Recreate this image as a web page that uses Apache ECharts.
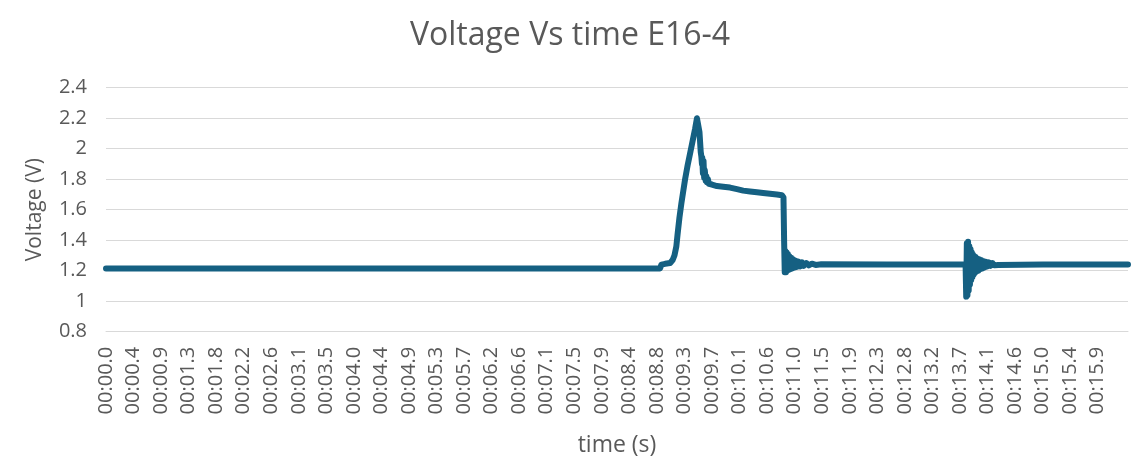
<!DOCTYPE html>
<html>
<head>
<meta charset="utf-8">
<script src="https://cdn.jsdelivr.net/npm/echarts@6/dist/echarts.min.js"></script>
<style>
html,body{margin:0;padding:0;background:#fff;}
#chart{width:1140px;height:476px;}
</style>
</head>
<body>
<div id="chart"></div>
<script>
// time (s) and voltage (V)
var timeS = [
  0, 2.0, 4.0, 6.0, 8.0, 8.87,
  8.89, 8.95, 9.03, 9.07, 9.10, 9.13, 9.15, 9.18, 9.21, 9.24, 9.27, 9.31, 9.35, 9.39, 9.43, 9.46, 9.48, 9.50,
  9.52, 9.53, 9.54, 9.545, 9.555, 9.565, 9.575, 9.585, 9.60, 9.61, 9.62, 9.635, 9.65, 9.70, 9.78, 9.88, 9.99, 10.10, 10.20, 10.31, 10.42, 10.52, 10.63, 10.74, 10.82, 10.845,
  10.855, 10.865, 10.875, 10.885, 10.895, 10.905, 10.915, 10.925, 10.94, 10.955, 10.97, 10.985, 11.00, 11.02, 11.04, 11.06, 11.085, 11.11, 11.14, 11.17, 11.21, 11.25, 11.30, 11.36, 11.45,
  12.5, 13.5, 13.76,
  13.770, 13.780, 13.790, 13.800, 13.810, 13.820, 13.830, 13.840, 13.850, 13.860, 13.870, 13.880, 13.890, 13.900, 13.910, 13.920, 13.935, 13.950, 13.965, 13.980, 13.995, 14.010, 14.030, 14.050, 14.070, 14.090, 14.110, 14.135, 14.160, 14.190, 14.220, 14.250, 14.280, 14.31,
  15.0, 15.8, 16.36
];
var voltage = [
  1.215, 1.215, 1.215, 1.215, 1.215, 1.215,
  1.24, 1.245, 1.25, 1.27, 1.30, 1.36, 1.44, 1.55, 1.64, 1.72, 1.80, 1.89, 1.97, 2.05, 2.13, 2.20, 2.20, 2.11,
  1.98, 1.95, 1.90, 1.94, 1.84, 1.92, 1.81, 1.86, 1.79, 1.82, 1.78, 1.80, 1.77, 1.765, 1.755, 1.75, 1.745, 1.735, 1.725, 1.72, 1.715, 1.71, 1.705, 1.70, 1.695, 1.68,
  1.40, 1.19, 1.33, 1.19, 1.32, 1.20, 1.31, 1.205, 1.295, 1.21, 1.285, 1.215, 1.275, 1.22, 1.265, 1.225, 1.26, 1.228, 1.255, 1.232, 1.25, 1.235, 1.246, 1.238, 1.242,
  1.24, 1.24, 1.24,
  1.03, 1.38, 1.04, 1.39, 1.07, 1.36, 1.11, 1.34, 1.14, 1.32, 1.16, 1.305, 1.175, 1.295, 1.185, 1.29, 1.195, 1.28, 1.20, 1.275, 1.21, 1.27, 1.215, 1.262, 1.222, 1.258, 1.228, 1.254, 1.232, 1.25, 1.235, 1.247, 1.238, 1.244,
  1.24, 1.24, 1.24
];
var xTickLabels = [
  "00:00.0","00:00.4","00:00.9","00:01.3","00:01.8","00:02.2","00:02.6","00:03.1","00:03.5","00:04.0",
  "00:04.4","00:04.9","00:05.3","00:05.7","00:06.2","00:06.6","00:07.1","00:07.5","00:07.9","00:08.4",
  "00:08.8","00:09.3","00:09.7","00:10.1","00:10.6","00:11.0","00:11.5","00:11.9","00:12.3","00:12.8",
  "00:13.2","00:13.7","00:14.1","00:14.6","00:15.0","00:15.4","00:15.9"
];
var yTickLabels = ["0.8","1","1.2","1.4","1.6","1.8","2","2.2","2.4"];

var X_STEP = 0.441;
var FONT = "'Open Sans', sans-serif";
var TXT = "#595959";
var GRID = "#d9d9d9";

var points = timeS.map(function (t, i) { return [t, voltage[i]]; });

var chart = echarts.init(document.getElementById('chart'), null, {renderer: 'canvas'});
chart.setOption({
  animation: false,
  backgroundColor: '#ffffff',
  textStyle: {fontFamily: FONT},
  title: {
    text: 'Voltage Vs time E16-4',
    left: 'center',
    top: 15,
    textStyle: {fontFamily: FONT, fontSize: 32, fontWeight: 'normal', color: TXT}
  },
  grid: {left: 106, right: 12, top: 87.7, bottom: 144.3, containLabel: false},
  xAxis: {
    type: 'value',
    min: 0,
    max: 16.36,
    interval: X_STEP,
    name: 'time (s)',
    nameLocation: 'middle',
    nameGap: 102,
    nameTextStyle: {fontFamily: FONT, fontSize: 23, color: TXT},
    axisLine: {show: true, lineStyle: {color: GRID, width: 1}},
    axisTick: {show: false},
    splitLine: {show: false},
    axisLabel: {
      rotate: 90,
      margin: 15,
      fontFamily: FONT,
      fontSize: 20,
      color: TXT,
      showMaxLabel: false,
      formatter: function (v) {
        var i = Math.round(v / X_STEP);
        if (Math.abs(v - i * X_STEP) > 1e-6) return '';
        return xTickLabels[i] || '';
      }
    }
  },
  yAxis: {
    type: 'value',
    min: 0.8,
    max: 2.4,
    interval: 0.2,
    name: 'Voltage (V)',
    nameLocation: 'middle',
    nameGap: 60,
    nameTextStyle: {fontFamily: FONT, fontSize: 21, color: TXT},
    axisLine: {show: false},
    axisTick: {show: false},
    splitLine: {show: true, lineStyle: {color: GRID, width: 1}},
    axisLabel: {
      margin: 19,
      fontFamily: FONT,
      fontSize: 20,
      color: TXT,
      formatter: function (v) {
        var i = Math.round((v - 0.8) / 0.2);
        return yTickLabels[i] || '';
      }
    }
  },
  series: [{
    type: 'line',
    data: points,
    showSymbol: false,
    symbol: 'none',
    lineStyle: {color: '#156082', width: 6, cap: 'round', join: 'round'},
    emphasis: {disabled: true}
  }]
});
</script>
</body>
</html>
